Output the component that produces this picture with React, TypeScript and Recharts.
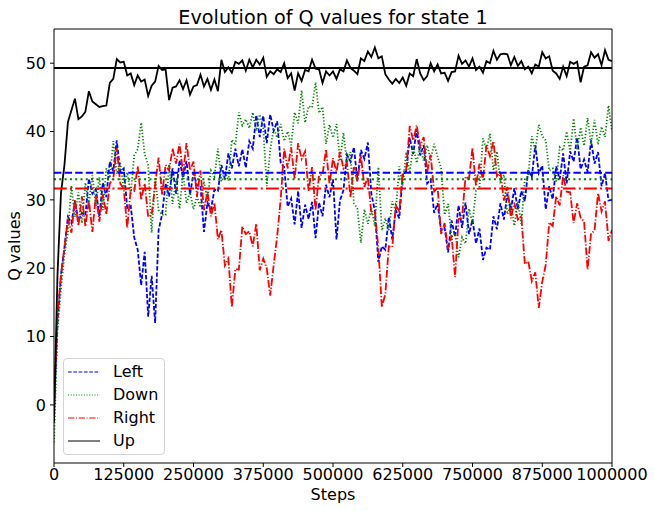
import React from 'react';
import { LineChart, Line, XAxis, YAxis, ReferenceLine, Legend } from 'recharts';

// one sample every 6250 steps, 0 .. 1 000 000
const STEP = 6250;

const UP = [
  -2.5, 19, 31, 35.1, 41.4, 43.1, 44.8, 41.8, 42.2, 42.9, 45.9, 44.4, 44.0, 43.6, 43.7, 43.8, 47.1, 47.7, 50.6, 50.1,
  50.2, 48.2, 48.5, 46.8, 48.2, 47.3, 47.6, 45.2, 46.7, 47.3, 49.6, 49.0, 49.1, 44.6, 46.4, 46.6, 47.5, 46.2, 47.5, 45.4,
  46.6, 46.8, 48.3, 46.6, 47.7, 46.1, 47.6, 45.9, 50.5, 48.7, 49.4, 48.6, 50.2, 49.9, 50.4, 48.9, 50.5, 49.4, 50.5, 49.8,
  50.8, 48.0, 48.8, 48.4, 49.1, 48.7, 50.0, 47.8, 48.5, 46.0, 48.5, 47.4, 49.0, 48.8, 50.5, 49.2, 49.1, 47.1, 48.8, 48.2,
  48.8, 47.7, 49.1, 48.8, 50.4, 49.3, 48.9, 48.4, 50.7, 50.3, 51.7, 50.9, 52.3, 50.7, 51.0, 48.4, 47.6, 47.0, 47.7, 47.1,
  47.9, 46.7, 48.5, 48.1, 50.6, 48.5, 47.5, 48.1, 50.0, 48.8, 49.8, 48.5, 48.6, 47.4, 48.7, 48.8, 51.1, 49.9, 50.4, 49.5,
  50.7, 49.0, 49.5, 48.6, 50.3, 50.0, 51.8, 50.5, 51.3, 51.4, 51.3, 49.7, 50.9, 49.6, 50.3, 49.1, 49.5, 48.5, 49.8, 49.5,
  51.6, 50.7, 51.0, 48.9, 48.5, 47.7, 49.5, 48.1, 50.2, 49.9, 50.2, 47.2, 49.5, 49.7, 51.6, 50.8, 51.3, 49.7, 51.9, 50.5,
  50.3,
];

const LEFT = [
  -1, 12, 19, 23, 27.5, 26.6, 29.8, 26.9, 28.1, 27.7, 33.1, 30.9, 31.6, 27.6, 32.5, 30.4, 35.6, 34.2, 38.7, 34.1,
  34.6, 28.8, 29.1, 24.5, 22.7, 17.5, 22.4, 12.9, 18.9, 12.0, 25.6, 27.9, 32.4, 30.5, 34.6, 30.9, 35.8, 33.2, 35.7, 30.8,
  33.9, 32.1, 32.1, 25.3, 29.6, 28.6, 31.5, 31.3, 35.1, 33.0, 36.8, 34.6, 37.5, 34.9, 37.4, 34.7, 38.6, 37.5, 42.4, 39.2,
  42.3, 38.3, 42.5, 40.1, 41.5, 35.4, 34.8, 29.0, 30.2, 26.4, 31.3, 25.9, 29.3, 27.2, 29.7, 24.4, 29.6, 27.6, 32.2, 30.4,
  33.0, 24.2, 29.9, 31.4, 36.6, 35.6, 37.7, 32.8, 37.3, 36.0, 38.4, 30.9, 28.4, 20.9, 23.2, 22.7, 27.5, 24.2, 28.5, 27.3,
  33.6, 34.2, 39.1, 36.7, 40.3, 36.5, 38.0, 32.4, 33.0, 28.1, 29.5, 25.5, 25.9, 22.3, 27.0, 24.6, 29.2, 25.9, 29.6, 25.0,
  27.1, 23.6, 25.8, 21.2, 23.0, 22.7, 27.6, 25.7, 29.5, 27.1, 30.9, 28.5, 31.7, 28.6, 31.3, 29.8, 34.4, 33.3, 38.0, 33.9,
  35.0, 28.6, 32.0, 30.1, 34.9, 33.0, 36.8, 32.4, 37.1, 35.6, 39.1, 34.5, 35.9, 34.1, 38.7, 35.3, 37.0, 32.0, 33.9, 29.9,
  30.0,
];

const DOWN = [
  -5.5, 11, 17, 22, 25.3, 32.1, 27.5, 31.1, 26.6, 32.5, 29.4, 33.6, 29.1, 33.3, 28.5, 34.6, 33.2, 38.6, 33.8, 35.4,
  31.6, 34.0, 30.9, 36.5, 37.4, 41.3, 36.7, 35.1, 25.2, 33.3, 28.5, 27.8, 27.8, 35.2, 29.4, 32.9, 28.7, 34.0, 29.5, 31.1,
  28.6, 30.5, 28.9, 32.7, 30.0, 34.3, 33.4, 37.5, 32.7, 34.2, 32.8, 38.8, 38.0, 42.8, 40.9, 41.8, 40.5, 42.8, 40.1, 42.5,
  40.5, 32.0, 37.3, 40.5, 39.1, 41.1, 38.6, 40.0, 38.0, 42.8, 41.2, 46.0, 41.3, 43.7, 43.5, 47.2, 42.7, 43.6, 38.2, 41.0,
  39.1, 41.1, 35.7, 39.8, 35.5, 37.0, 29.5, 28.7, 23.7, 28.6, 26.5, 28.8, 26.1, 34.8, 25.5, 27.3, 25.4, 29.8, 28.4, 34.9,
  32.1, 37.0, 33.9, 37.9, 35.4, 37.8, 35.7, 38.0, 35.9, 38.2, 36.3, 34.6, 27.8, 29.4, 24.5, 25.1, 21.6, 24.5, 23.6, 28.7,
  26.6, 31.5, 31.8, 39.0, 37.4, 39.7, 34.3, 37.1, 32.7, 33.7, 27.9, 29.3, 26.2, 29.7, 26.5, 33.0, 33.5, 39.3, 37.2, 41.0,
  39.3, 38.7, 34.3, 34.6, 32.7, 37.7, 37.2, 40.0, 37.0, 41.9, 37.3, 40.6, 37.9, 42.0, 38.2, 41.7, 38.1, 40.7, 39.2, 43.8,
  40.0,
];

const RIGHT = [
  1, 13, 19, 23, 27.2, 25.2, 30.0, 26.2, 30.5, 26.1, 29.9, 25.3, 30.7, 26.8, 30.8, 27.9, 32.4, 33.1, 37.6, 32.4,
  31.6, 25.9, 31.5, 31.3, 34.9, 30.0, 32.4, 27.5, 27.8, 32.2, 36.2, 30.8, 35.1, 34.3, 37.5, 35.3, 38.2, 33.9, 38.3, 34.3,
  35.6, 30.5, 34.3, 28.5, 31.2, 27.6, 29.6, 24.2, 25.6, 20.4, 21.4, 14.3, 19.9, 19.8, 26.1, 25.0, 25.4, 23.2, 26.5, 19.7,
  21.4, 20.0, 16.0, 20.5, 24.7, 30.1, 37.5, 34.6, 37.7, 33.0, 38.3, 36.0, 37.1, 31.3, 34.8, 28.5, 33.6, 33.7, 37.4, 32.3,
  36.1, 34.1, 37.0, 34.6, 35.4, 30.4, 34.8, 32.7, 36.5, 31.9, 33.3, 28.0, 28.3, 23.0, 14.3, 16.2, 23.2, 23.1, 29.2, 28.3,
  34.0, 34.4, 40.8, 38.7, 40.9, 37.9, 39.2, 34.1, 36.6, 31.2, 31.8, 25.0, 26.6, 22.8, 24.8, 18.7, 27.2, 27.4, 33.4, 33.1,
  37.6, 32.0, 35.3, 32.9, 38.0, 36.4, 38.6, 33.5, 34.2, 29.9, 31.9, 27.3, 29.6, 27.1, 27.6, 20.6, 21.0, 18.1, 19.4, 14.2,
  18.0, 20.5, 26.7, 26.2, 30.5, 29.2, 33.6, 31.2, 31.1, 26.6, 29.5, 27.4, 26.8, 19.8, 25.1, 25.5, 31.0, 28.3, 29.8, 24.0,
  25.6,
];

// horizontal lines: average Q value of each action
const MEAN_LEFT = 33.97;
const MEAN_DOWN = 33.03;
const MEAN_RIGHT = 31.67;
const MEAN_UP = 49.3;

const X_TICKS = [0, 125000, 250000, 375000, 500000, 625000, 750000, 875000, 1000000];
const Y_TICKS = [0, 10, 20, 30, 40, 50];

const FONT = '"DejaVu Sans", sans-serif';

const SERIES = [
  { key: 'left', name: 'Left', color: '#0000ff', dash: '4.4 1.9', legendDash: '3.7 1.6', meanDash: '7.4 3.2', mean: MEAN_LEFT },
  { key: 'down', name: 'Down', color: '#008000', dash: '1.2 2', legendDash: '1 1.65', meanDash: '2 3.3', mean: MEAN_DOWN },
  { key: 'right', name: 'Right', color: '#ff0000', dash: '7.7 1.9 1.2 1.9', legendDash: '6.4 1.6 1 1.6', meanDash: '12.8 3.2 2 3.2', mean: MEAN_RIGHT },
  { key: 'up', name: 'Up', color: '#000000', dash: undefined, legendDash: undefined, meanDash: undefined, mean: MEAN_UP },
];

const data = UP.map((v, i) => ({
  step: i * STEP,
  up: v,
  left: LEFT[i],
  down: DOWN[i],
  right: RIGHT[i],
}));

const LegendBox = () => (
  <div
    style={{
      width: 102,
      height: 97,
      boxSizing: 'border-box',
      border: '1px solid #d3d3d3',
      borderRadius: 4,
      background: 'rgba(255,255,255,0.8)',
      fontFamily: FONT,
      fontSize: 16,
      color: '#000',
      paddingTop: 1,
      paddingLeft: 4,
    }}
  >
    {SERIES.map((s) => (
      <div key={s.key} style={{ display: 'flex', alignItems: 'center', height: 23 }}>
        <svg width={32} height={8}>
          <line x1={0} y1={4} x2={32} y2={4} stroke={s.color} strokeWidth={1} strokeDasharray={s.legendDash} />
        </svg>
        <span style={{ marginLeft: 13, lineHeight: 1 }}>{s.name}</span>
      </div>
    ))}
  </div>
);

export default function App() {
  return (
    <div style={{ position: 'absolute', left: 0, top: 0, width: 654, height: 511, background: '#fff' }}>
      <div
        style={{
          position: 'absolute', left: 54, top: 8, width: 558, textAlign: 'center',
          fontFamily: FONT, fontSize: 19.2, lineHeight: 1, color: '#000', whiteSpace: 'nowrap',
        }}
      >
        Evolution of Q values for state 1
      </div>
      <div
        style={{
          position: 'absolute', left: 54, top: 487, width: 558, textAlign: 'center',
          fontFamily: FONT, fontSize: 16, lineHeight: 1, color: '#000',
        }}
      >
        Steps
      </div>
      <div
        style={{
          position: 'absolute', left: 15, top: 246, transform: 'translate(-50%, -50%) rotate(-90deg)',
          fontFamily: FONT, fontSize: 16, lineHeight: 1, color: '#000', whiteSpace: 'nowrap',
        }}
      >
        Q values
      </div>
      <LineChart width={654} height={511} data={data} margin={{ top: 29, right: 42, bottom: 18, left: 0 }}>
        <XAxis
          dataKey="step"
          type="number"
          domain={[0, 1000000]}
          ticks={X_TICKS}
          interval={0}
          height={30}
          allowDataOverflow
          axisLine={{ stroke: '#000' }}
          tickLine={{ stroke: '#000' }}
          tickSize={4}
          tickMargin={2}
          tick={{ fill: '#000', fontSize: 16, fontFamily: FONT }}
        />
        <YAxis
          type="number"
          domain={[-8.5, 55]}
          ticks={Y_TICKS}
          interval={0}
          width={54}
          allowDataOverflow
          axisLine={{ stroke: '#000' }}
          tickLine={{ stroke: '#000' }}
          tickSize={4}
          tickMargin={4}
          tick={{ fill: '#000', fontSize: 16, fontFamily: FONT }}
        />
        {SERIES.map((s) => (
          <Line
            key={s.key}
            dataKey={s.key}
            name={s.name}
            stroke={s.color}
            strokeWidth={1.8}
            strokeDasharray={s.dash}
            dot={false}
            activeDot={false}
            isAnimationActive={false}
          />
        ))}
        {SERIES.map((s) => (
          <ReferenceLine
            key={`mean-${s.key}`}
            y={s.mean}
            stroke={s.color}
            strokeWidth={2}
            strokeDasharray={s.meanDash}
          />
        ))}
        <ReferenceLine y={55} stroke="#000" strokeWidth={1} />
        <ReferenceLine x={1000000} stroke="#000" strokeWidth={1} />
        <Legend
          layout="vertical"
          align="center"
          verticalAlign="middle"
          content={() => <LegendBox />}
          wrapperStyle={{ position: 'absolute', left: 63, top: 358, width: 102, height: 97 }}
        />
      </LineChart>
    </div>
  );
}
